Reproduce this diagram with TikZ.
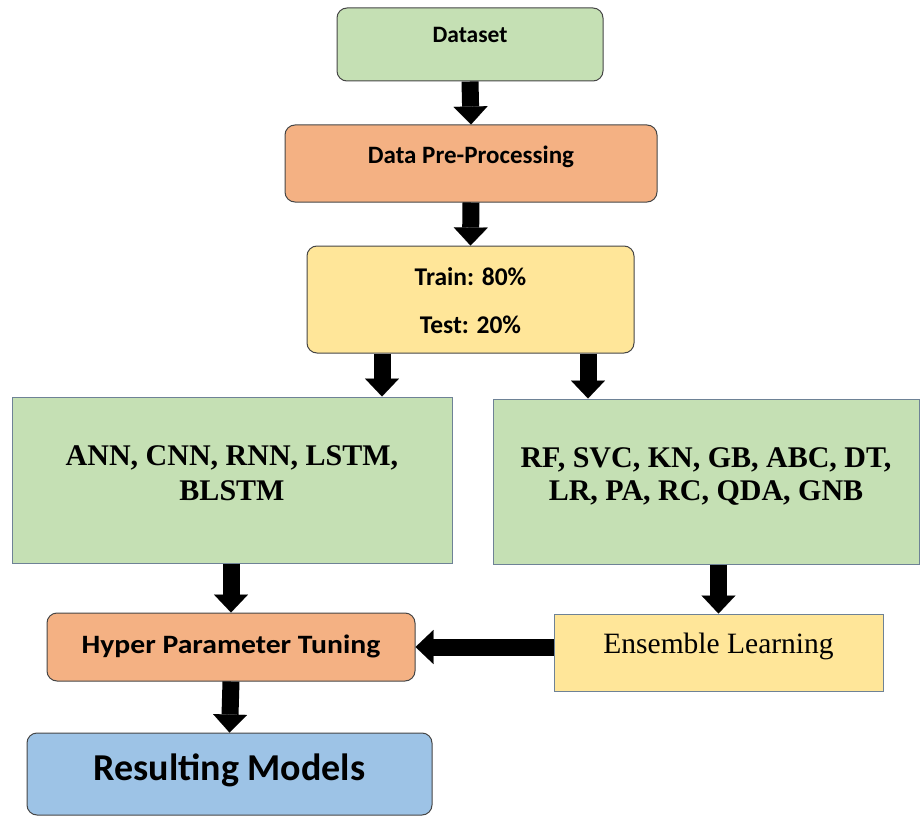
\documentclass[tikz,border=0pt]{standalone}
\usepackage{fontspec}
\setmainfont{Liberation Serif}
\newfontfamily\calibri{Carlito}
\newfontfamily\calibriwide[FakeStretch=1.12]{Carlito}
\usetikzlibrary{arrows.meta,calc}
\definecolor{boxgreen}{RGB}{197,224,180}
\definecolor{boxorange}{RGB}{244,177,131}
\definecolor{boxyellow}{RGB}{255,230,153}
\definecolor{boxblue}{RGB}{157,195,230}
\definecolor{edgedark}{RGB}{70,70,70}
\definecolor{edgeblue}{RGB}{110,130,150}
\tikzset{
  rbox/.style={draw=edgedark, line width=1pt, rounded corners=10pt, inner sep=0pt},
  sbox/.style={draw=edgeblue, line width=1pt, inner sep=0pt},
  sized/.style 2 args={minimum width=#1pt, minimum height=#2pt},
  txt/.style={anchor=base, inner sep=0pt},
  blockarrow/.style={line width=17pt, black,
    -{Triangle[width=34pt, length=18pt, line width=0.1pt]}},
}
\begin{document}
\begin{tikzpicture}[x=1pt, y=-1pt]
\useasboundingbox (0,0) rectangle (922,816);

% process boxes
\node[rbox, fill=boxgreen,  sized={266}{73}]  (ds)    at (470,44.5) {};
\node[rbox, fill=boxorange, sized={372}{77}]  (pp)    at (471,163.5) {};
\node[rbox, fill=boxyellow, sized={327}{107}] (split) at (470.5,299.5) {};
\node[sbox, fill=boxgreen,  sized={440}{166}] (dl)    at (232,480) {};
\node[sbox, fill=boxgreen,  sized={426}{165}] (ml)    at (706,481.5) {};
\node[rbox, fill=boxorange, sized={368}{68}]  (hpt)   at (231,647) {};
\node[sbox, fill=boxyellow, sized={329}{77}]  (ens)   at (718.5,652.5) {};
\node[rbox, fill=boxblue,   sized={405}{82}]  (res)   at (229.5,774) {};

% box texts, placed by their baselines
\node[txt, font=\calibri\bfseries\fontsize{23.5}{28}\selectfont] (ds-t) at ($(ds.center)+(0,-1.5)$) {Dataset};
\node[txt, font=\calibri\bfseries\fontsize{25}{30}\selectfont] (pp-t) at ($(pp.center)+(0,-0.5)$) {Data Pre-Processing};
\node[txt, font=\calibri\bfseries\fontsize{25.5}{30}\selectfont] (split-t1) at ($(split.center)+(0,-14.5)$) {Train: 80\%};
\node[txt, font=\calibri\bfseries\fontsize{25.5}{30}\selectfont] (split-t2) at ($(split.center)+(0,33.5)$) {Test: 20\%};
\node[txt, font=\bfseries\fontsize{30}{35}\selectfont] (dl-t1) at ($(dl.center)+(0,-15)$) {ANN, CNN, RNN, LSTM,};
\node[txt, font=\bfseries\fontsize{30}{35}\selectfont] (dl-t2) at ($(dl.center)+(0,20)$) {BLSTM};
\node[txt, font=\bfseries\fontsize{30}{35}\selectfont] (ml-t1) at ($(ml.center)+(0,-14.5)$) {RF, SVC, KN, GB, ABC, DT,};
\node[txt, font=\bfseries\fontsize{30}{35}\selectfont] (ml-t2) at ($(ml.center)+(0,18.5)$) {LR, PA, RC, QDA, GNB};
\node[txt, font=\calibriwide\bfseries\fontsize{26.5}{30}\selectfont] (hpt-t) at ($(hpt.center)+(0,6)$) {Hyper Parameter Tuning};
\node[txt, font=\fontsize{29.5}{34}\selectfont] (ens-t) at ($(ens.center)+(0,0.5)$) {Ensemble Learning};
\node[txt, font=\calibri\bfseries\fontsize{38}{44}\selectfont] (res-t) at ($(res.center)+(0,6)$) {Resulting Models};

% x positions of the two split arrows
\coordinate (xleft) at (382,0);
\coordinate (xright) at (588,0);

% connectors
\draw[blockarrow] (ds.south) -- (pp.north);
\draw[blockarrow] (pp.south) -- (split.north);
\draw[blockarrow] (split.south -| xleft) -- (dl.north -| xleft);
\draw[blockarrow] (split.south -| xright) -- (ml.north -| xright);
\draw[blockarrow] (dl.south -| hpt) -- (hpt.north);
\draw[blockarrow] (ml.south -| ens) -- (ens.north);
\draw[blockarrow] (ens.west |- hpt) -- (hpt.east);
\draw[blockarrow] (hpt.south) -- (res.north);
\end{tikzpicture}
\end{document}
